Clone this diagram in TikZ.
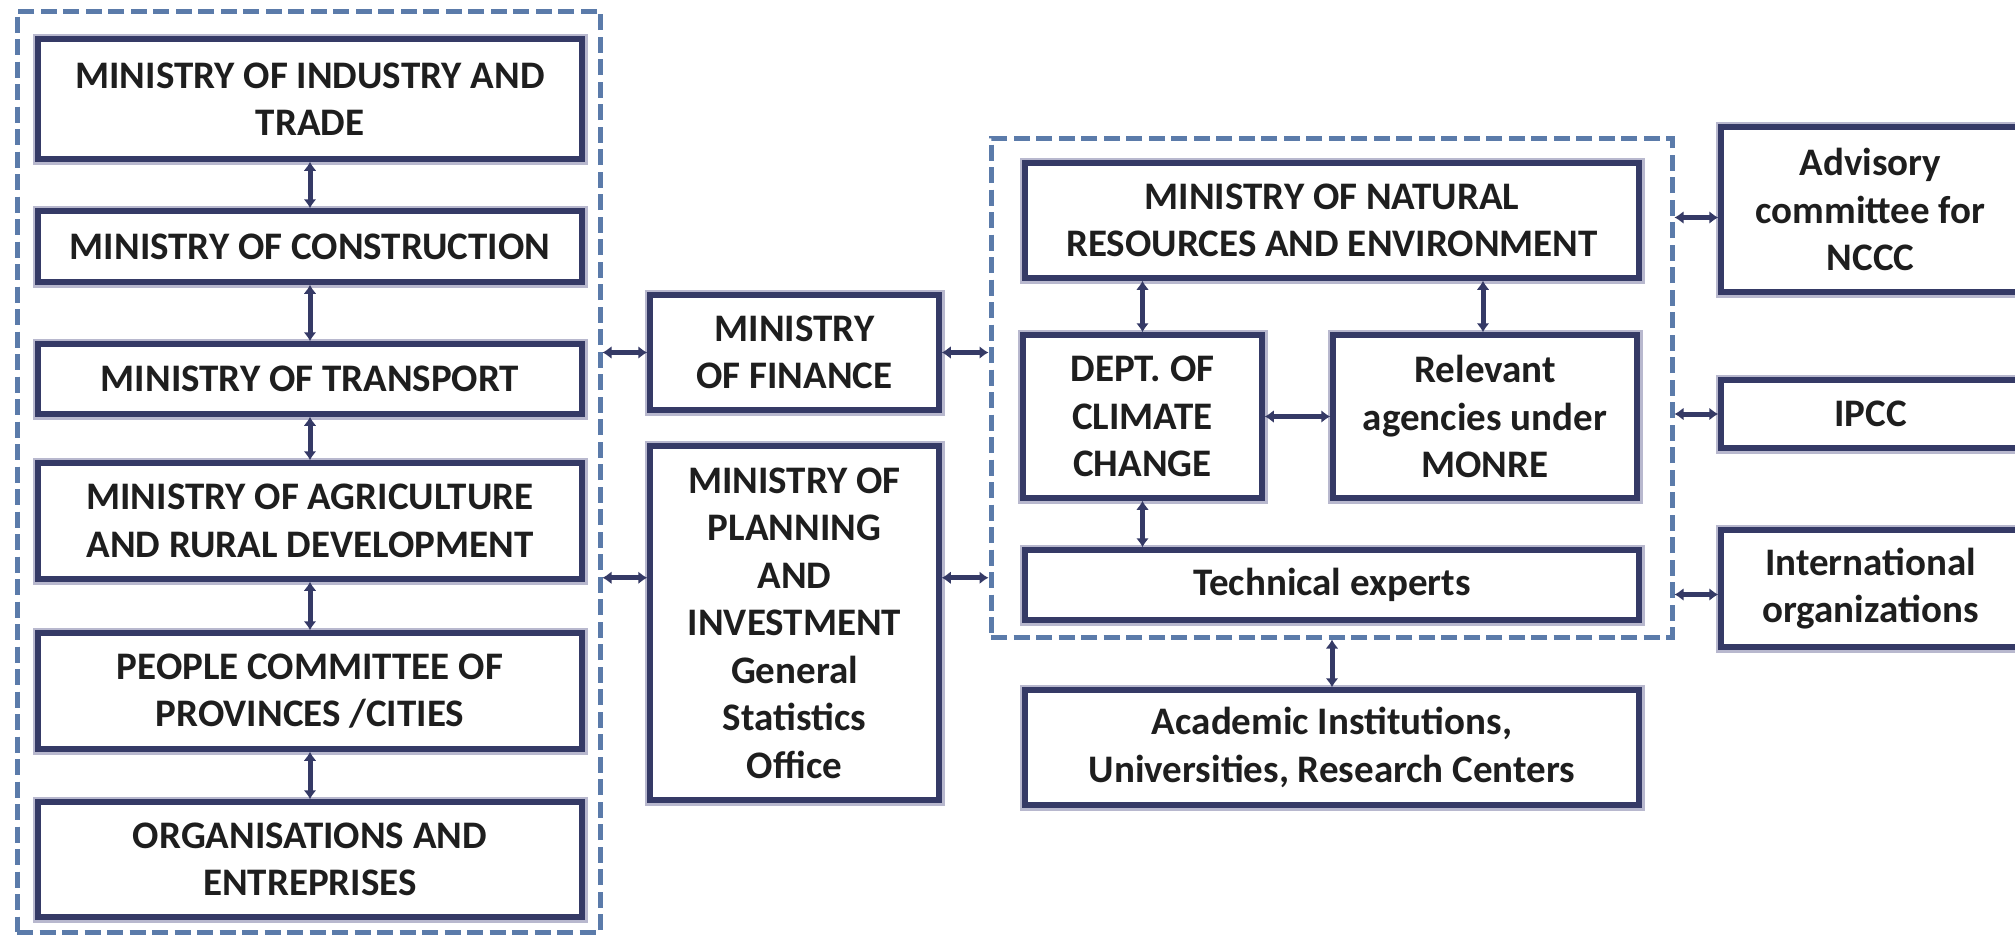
\documentclass[tikz,border=0pt]{standalone}
\usepackage{fontspec}
\setmainfont{Carlito}
\usetikzlibrary{arrows.meta,calc}
\definecolor{navy}{HTML}{353A66}
\definecolor{dashblue}{HTML}{5B7BAA}
\definecolor{halo}{HTML}{B8B8CE}
\definecolor{txt}{HTML}{1E1E1E}
\begin{document}
\begin{tikzpicture}[x=1pt,y=-1pt,
  box/.style={draw=navy, line width=5.5pt, fill=white, align=center, inner sep=0pt, text=txt,
    font=\fontsize{39}{47.5}\selectfont\bfseries,
    preaction={draw=halo, line width=11pt}},
  grp/.style={draw=dashblue, line width=5pt, dash pattern=on 16pt off 6.5pt, inner sep=0pt},
  link/.style={draw=navy, line width=5pt, {Latex[length=9pt,width=13pt]}-{Latex[length=9pt,width=13pt]}}]
\useasboundingbox (0,0) rectangle (2015,935);
\clip (0,0) rectangle (2015,935);
\fill[white] (0,0) rectangle (2015,935);

% groups
\node[grp, minimum width=583pt, minimum height=921pt] (lgrp) at (308.5,471.5) {};
\node[grp, minimum width=681pt, minimum height=499pt] (rgrp) at (1331.5,387.5) {};

% left column
\node[box, minimum width=544pt, minimum height=120pt] (ind) at (310,99) {MINISTRY OF INDUSTRY AND\\TRADE};
\node[box, minimum width=544pt, minimum height=71pt] (con) at (310,246.5) {MINISTRY OF CONSTRUCTION};
\node[box, minimum width=544pt, minimum height=70pt] (tra) at (310,379) {MINISTRY OF TRANSPORT};
\node[box, minimum width=544pt, minimum height=116pt] (agr) at (310,521) {MINISTRY OF AGRICULTURE\\AND RURAL DEVELOPMENT};
\node[box, minimum width=544pt, minimum height=116pt] (peo) at (310,691) {PEOPLE COMMITTEE OF\\PROVINCES /CITIES};
\node[box, minimum width=544pt, minimum height=115pt] (org) at (310,859.5) {ORGANISATIONS AND\\ENTREPRISES};

% middle column
\node[box, minimum width=289pt, minimum height=115pt] (fin) at (794.5,352.5) {MINISTRY\\OF FINANCE};
\node[box, minimum width=289pt, minimum height=354pt] (pla) at (794.5,623) {MINISTRY OF\\PLANNING\\AND\\INVESTMENT\\General\\Statistics\\Office};

% right group
\node[box, minimum width=614pt, minimum height=115pt] (mon) at (1332,220.5) {MINISTRY OF NATURAL\\RESOURCES AND ENVIRONMENT};
\node[box, minimum width=239pt, minimum height=163pt] (dep) at (1142.5,416.5) {DEPT. OF\\CLIMATE\\CHANGE};
\node[box, minimum width=304pt, minimum height=163pt] (rel) at (1485,416.5) {Relevant\\agencies under\\MONRE};
\node[box, minimum width=614pt, minimum height=70pt] (tec) at (1332,585) {Technical experts};
\node[box, minimum width=614pt, minimum height=115pt] (aca) at (1332,747.5) {Academic Institutions,\\Universities, Research Centers};

% far right
\node[box, minimum width=299pt, minimum height=165pt] (adv) at (1870.5,209.5) {Advisory\\committee for\\NCCC};
\node[box, minimum width=299pt, minimum height=68pt] (ipc) at (1870.5,414) {IPCC};
\node[box, minimum width=299pt, minimum height=117pt] (int) at (1870.5,588.5) {International\\organizations};

% connectors left column
\draw[link] (ind) -- (con);
\draw[link] (con) -- (tra);
\draw[link] (tra) -- (agr);
\draw[link] (agr) -- (peo);
\draw[link] (peo) -- (org);

% middle
\draw[link] (lgrp.east |- fin.west) -- (fin.west);
\draw[link] (fin.east) -- (rgrp.west |- fin.east);
\draw[link] ([yshift=4pt]lgrp.east |- agr.south) -- ([yshift=4pt]pla.west |- agr.south);
\draw[link] ([yshift=4pt]pla.east |- agr.south) -- ([yshift=4pt]rgrp.west |- agr.south);

% right group internals
\draw[link] (dep.north) -- (dep.north |- mon.south);
\draw[link] ([xshift=-2pt]rel.north) -- ([xshift=-2pt]rel.north |- mon.south);
\draw[link] (dep.east) -- (rel.west);
\draw[link] (dep.south) -- (dep.south |- tec.north);
\draw[link] (aca.north) -- (aca.north |- rgrp.south);

% far right
\draw[link] ([yshift=-8pt]rgrp.east |- adv.west) -- ([yshift=-8pt]adv.west);
\draw[link] (rgrp.east |- ipc.west) -- (ipc.west);
\draw[link] ([yshift=-6pt]rgrp.east |- int.west) -- ([yshift=-6pt]int.west);
\end{tikzpicture}
\end{document}
